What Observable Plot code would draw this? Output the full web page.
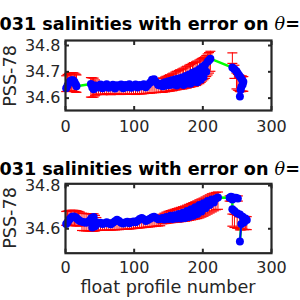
<!DOCTYPE html>
<html><head><meta charset="utf-8">
<script src="https://cdn.jsdelivr.net/npm/d3@7"></script>
<script src="https://cdn.jsdelivr.net/npm/@observablehq/plot@0.6"></script>
<style>
body{margin:0;background:#fff;}
#root{position:relative;width:300px;height:300px;overflow:hidden;font-family:"DejaVu Sans",sans-serif;}
.title{position:absolute;white-space:nowrap;font-weight:bold;font-size:17.6px;line-height:17.6px;color:#000;}
.title .th{font-family:"DejaVu Serif",serif;font-style:italic;font-weight:normal;}
.panel{position:absolute;left:0;}
.xlabel{position:absolute;white-space:nowrap;font-size:17.6px;line-height:17.6px;color:#262626;transform:translateX(-50%);}
.ylabel{position:absolute;white-space:nowrap;font-size:17.6px;line-height:17.6px;color:#262626;transform:translate(-50%,-50%) rotate(-90deg);}
</style></head><body><div id="root"></div><script>
// ---- data ----
const floatName = "3901031";
const titleText = " salinities with error on ";
const thetaSuffix = "=2.5°C";
const xTicks = [0, 100, 200, 300];
const yTicks1 = [34.6, 34.7, 34.8];
const yTicks2 = [34.6, 34.8];
const yDomain1 = [34.553, 34.819];
const yDomain2 = [34.487, 34.808];
const xLabel = "float profile number";
const yLabel = "PSS-78";

const prof1 = [1,3,5,7,9,11,13,15,16,
  37,39,41,43,45,
  48,51,54,57,60,63,66,69,72,75,78,81,84,87,90,93,96,99,102,105,108,111,114,117,120,123,126,129,132,135,138,
  140,142,145,147,150,152,155,157,160,162,165,167,170,172,175,177,180,182,185,187,190,192,195,197,199,201,203,205,207,209,211,
  243,246,249,251,253,255,257,259,258,256,255,254];
const sal1 = [34.638,34.648,34.658,34.665,34.668,34.668,34.662,34.652,34.645,
  34.654,34.640,34.634,34.648,34.644,
  34.640,34.652,34.638,34.648,34.653,34.639,34.645,34.651,34.637,34.649,34.644,34.652,34.638,34.650,34.641,34.653,34.639,34.646,34.652,34.640,34.650,34.645,34.653,34.641,34.650,34.658,34.670,34.672,34.660,34.650,34.648,
  34.656,34.645,34.660,34.648,34.664,34.650,34.668,34.652,34.672,34.648,34.675,34.655,34.678,34.650,34.684,34.656,34.690,34.655,34.696,34.662,34.702,34.660,34.710,34.670,34.718,34.680,34.726,34.700,34.738,34.744,34.750,
  34.716,34.710,34.702,34.694,34.686,34.678,34.670,34.662,34.652,34.642,34.632,34.606];
const map1 = [34.655,34.658,34.660,34.662,34.662,34.661,34.660,34.657,34.655,
  34.641,34.640,34.640,34.639,34.637,
  34.635,34.635,34.634,34.635,34.636,34.635,34.634,34.635,34.636,34.635,34.634,34.635,34.636,34.635,34.634,34.635,34.636,34.635,34.634,34.635,34.636,34.636,34.637,34.638,34.638,34.639,34.640,34.641,34.641,34.642,34.643,
  34.648,34.650,34.652,34.654,34.656,34.658,34.660,34.662,34.665,34.667,34.669,34.671,34.673,34.675,34.678,34.680,34.683,34.685,34.688,34.690,34.693,34.696,34.700,34.704,34.708,34.712,34.716,34.722,34.728,34.734,34.740,
  34.752,34.700,34.665,34.660,34.658,34.656,34.655,34.654,34.654,34.653,34.652,34.652];
const err1 = [0.030,0.032,0.034,0.035,0.035,0.035,0.035,0.034,0.033,
  0.037,0.037,0.036,0.030,0.024,
  0.020,0.020,0.021,0.020,0.019,0.020,0.021,0.020,0.020,0.019,0.020,0.021,0.020,0.020,0.019,0.020,0.021,0.020,0.020,0.019,0.020,0.020,0.020,0.020,0.020,0.020,0.020,0.020,0.020,0.020,0.021,
  0.026,0.027,0.028,0.029,0.030,0.031,0.032,0.033,0.034,0.035,0.036,0.037,0.038,0.039,0.040,0.041,0.042,0.043,0.044,0.045,0.045,0.045,0.045,0.044,0.043,0.042,0.041,0.040,0.040,0.039,0.038,
  0.020,0.025,0.030,0.030,0.030,0.029,0.029,0.028,0.028,0.028,0.027,0.027];
const breaks1 = [9, 76];

const prof2 = [1,3,5,7,9,11,13,15,17,19,21,24,27,30,33,36,38,39,41,43,45,
  48,51,54,57,60,63,66,69,72,75,78,81,84,87,90,93,96,99,102,105,108,111,114,117,120,123,126,129,132,135,138,
  141,144,147,150,153,156,159,162,165,168,171,174,177,180,183,186,189,192,195,198,201,204,207,210,213,216,219,222,
  239,241,244,248,251,246,243,
  243,246,250,254,258,262,264,260,256,254];
const sal2 = [34.622,34.630,34.640,34.648,34.654,34.657,34.656,34.652,34.646,34.640,34.636,34.632,34.630,34.628,34.632,34.640,34.650,34.606,34.655,34.612,34.630,
  34.624,34.628,34.622,34.626,34.630,34.624,34.621,34.628,34.635,34.642,34.636,34.628,34.624,34.629,34.632,34.626,34.630,34.634,34.630,34.637,34.645,34.650,34.644,34.636,34.640,34.646,34.652,34.656,34.650,34.644,34.645,
  34.650,34.643,34.655,34.645,34.660,34.645,34.662,34.647,34.668,34.648,34.674,34.650,34.682,34.655,34.690,34.660,34.700,34.668,34.710,34.680,34.718,34.695,34.728,34.710,34.735,34.722,34.740,34.745,
  34.744,34.748,34.745,34.744,34.740,34.742,34.735,
  34.690,34.682,34.672,34.666,34.656,34.648,34.640,34.630,34.622,34.541];
const map2 = [34.648,34.649,34.650,34.650,34.650,34.650,34.650,34.649,34.648,34.647,34.645,34.632,34.631,34.630,34.630,34.630,34.630,34.629,34.629,34.626,34.622,
  34.615,34.615,34.615,34.615,34.616,34.616,34.616,34.617,34.617,34.618,34.618,34.619,34.619,34.620,34.620,34.621,34.622,34.623,34.624,34.625,34.626,34.627,34.628,34.629,34.630,34.631,34.632,34.633,34.634,34.635,34.636,
  34.645,34.648,34.651,34.654,34.656,34.658,34.660,34.662,34.664,34.666,34.668,34.670,34.673,34.676,34.679,34.682,34.685,34.688,34.692,34.696,34.700,34.705,34.710,34.715,34.720,34.724,34.728,34.730,
  34.740,34.740,34.740,34.740,34.740,34.740,34.740,
  34.640,34.636,34.632,34.630,34.628,34.627,34.626,34.626,34.625,34.625];
const err2 = [0.032,0.033,0.034,0.035,0.035,0.035,0.035,0.035,0.034,0.033,0.032,0.040,0.040,0.040,0.040,0.040,0.040,0.040,0.040,0.036,0.030,
  0.022,0.022,0.022,0.022,0.022,0.022,0.022,0.022,0.022,0.022,0.022,0.022,0.022,0.022,0.022,0.022,0.022,0.022,0.022,0.022,0.022,0.022,0.022,0.022,0.022,0.022,0.022,0.022,0.022,0.022,0.022,
  0.022,0.024,0.026,0.027,0.028,0.029,0.030,0.031,0.032,0.033,0.034,0.035,0.036,0.037,0.038,0.039,0.040,0.041,0.042,0.042,0.042,0.042,0.042,0.042,0.042,0.041,0.040,0.040,
  0.012,0.012,0.012,0.012,0.012,0.012,0.012,
  0.028,0.030,0.030,0.030,0.030,0.030,0.030,0.030,0.030,0.030];
const breaks2 = [80, 87];

// ---- drawing ----
const capSymbol = {draw(ctx, size) { const w = Math.sqrt(size / Math.PI); ctx.moveTo(-w, 0); ctx.lineTo(w, 0); }};
const ink = "#262626";
const blank = () => "";

function panel({prof, sal, map, err, breaks, yDomain, yTicks, height, marginTop, marginBottom, xPad}) {
  const data = prof.map((p, i) => ({p, s: sal[i], lo: map[i] - err[i], hi: map[i] + err[i], seg: breaks.filter(b => i >= b).length}));
  return Plot.plot({
    width: 300, height, marginLeft: 65, marginRight: 29, marginTop, marginBottom,
    style: {fontFamily: "DejaVu Sans", fontSize: "16px", color: ink, background: "transparent"},
    x: {domain: [0, 300]},
    y: {domain: yDomain},
    marks: [
      Plot.ruleX(data, {x: "p", y1: "lo", y2: "hi", stroke: "#ff0000", strokeWidth: 1}),
      Plot.dot(data, {x: "p", y: "lo", symbol: capSymbol, r: 5, stroke: "#ff0000", fill: "none", strokeWidth: 1.2}),
      Plot.dot(data, {x: "p", y: "hi", symbol: capSymbol, r: 5, stroke: "#ff0000", fill: "none", strokeWidth: 1.2}),
      Plot.line(data, {x: "p", y: "s", stroke: "#00ff00", strokeWidth: 2.5}),
      Plot.line(data, {x: "p", y: "s", z: "seg", stroke: "#0000ff", strokeWidth: 2}),
      Plot.dot(data, {x: "p", y: "s", r: 4, fill: "#0000ff"}),
      Plot.frame({stroke: ink, strokeWidth: 2.2}),
      Plot.axisX({anchor: "bottom", ticks: xTicks, tickSize: -4, tickFormat: blank, label: null, stroke: ink, strokeWidth: 2}),
      Plot.axisX({anchor: "top", ticks: xTicks, tickSize: -4, tickFormat: blank, label: null, stroke: ink, strokeWidth: 2}),
      Plot.axisY({anchor: "left", ticks: yTicks, tickSize: -4, tickFormat: blank, label: null, stroke: ink, strokeWidth: 2}),
      Plot.axisY({anchor: "right", ticks: yTicks, tickSize: -4, tickFormat: blank, label: null, stroke: ink, strokeWidth: 2}),
      Plot.axisX({anchor: "bottom", ticks: xTicks, tickSize: 0, tickPadding: xPad, tickFormat: d => String(d), label: null}),
      Plot.axisY({anchor: "left", ticks: yTicks, tickSize: 0, tickPadding: 5, tickFormat: d3.format(".1f"), label: null})
    ]
  });
}

const root = document.getElementById("root");

function addTitle(top) {
  const div = document.createElement("div");
  div.className = "title";
  div.innerHTML = `${floatName}${titleText}<span class="th">θ</span>${thetaSuffix}`;
  div.style.top = top + "px";
  root.appendChild(div);
  const probe = document.createElement("span");
  probe.className = "title";
  probe.style.visibility = "hidden";
  probe.textContent = floatName.slice(0, floatName.length - 3);
  root.appendChild(probe);
  const w = probe.getBoundingClientRect().width;
  probe.remove();
  div.style.left = (-w - 0.5) + "px";
}

function addYLabel(cy) {
  const d = document.createElement("div");
  d.className = "ylabel";
  d.textContent = yLabel;
  d.style.left = "10.6px";
  d.style.top = cy + "px";
  root.appendChild(d);
}

const p1 = panel({prof: prof1, sal: sal1, map: map1, err: err1, breaks: breaks1, yDomain: yDomain1, yTicks: yTicks1,
  height: 145, marginTop: 40, marginBottom: 35, xPad: 10});
p1.classList.add("panel"); p1.style.top = "0px";
root.appendChild(p1);

const p2 = panel({prof: prof2, sal: sal2, map: map2, err: err2, breaks: breaks2, yDomain: yDomain2, yTicks: yTicks2,
  height: 150, marginTop: 33.3, marginBottom: 47.3, xPad: 8.5});
p2.classList.add("panel"); p2.style.top = "150px";
root.appendChild(p2);

addTitle(16.1);
addTitle(161.1);
addYLabel(75.5);
addYLabel(218);

const xl = document.createElement("div");
xl.className = "xlabel";
xl.textContent = xLabel;
xl.style.left = "168px";
xl.style.top = "279.4px";
root.appendChild(xl);
</script></body></html>
